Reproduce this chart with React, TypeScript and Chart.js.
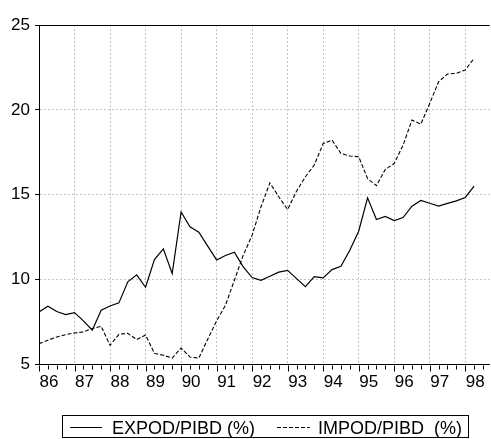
import React, { useEffect, useRef } from "react";
import { Chart, registerables } from "chart.js";

Chart.register(...registerables);

const years = ["86", "87", "88", "89", "90", "91", "92", "93", "94", "95", "96", "97", "98"];
// Quarterly observations 1986Q1 .. 1998Q2
const expod = [
  8.10, 8.43, 8.12, 7.94, 8.06, 7.57, 7.02, 8.20, 8.45, 8.63,
  9.87, 10.28, 9.55, 11.18, 11.81, 10.36, 13.99, 13.11, 12.79, 11.97,
  11.16, 11.42, 11.62, 10.75, 10.12, 9.96, 10.20, 10.44, 10.55, 10.06,
  9.59, 10.18, 10.10, 10.59, 10.79, 11.73, 12.85, 14.82, 13.54, 13.72,
  13.48, 13.66, 14.33, 14.66, 14.50, 14.33, 14.49, 14.64, 14.84, 15.51,
];
const impod = [
  6.23, 6.43, 6.62, 6.76, 6.86, 6.92, 7.12, 7.25, 6.13, 6.78,
  6.84, 6.47, 6.74, 5.66, 5.54, 5.38, 5.97, 5.44, 5.38, 6.49,
  7.57, 8.49, 9.96, 11.44, 12.62, 14.29, 15.70, 14.88, 14.13, 15.21,
  16.06, 16.75, 18.02, 18.22, 17.43, 17.28, 17.24, 15.96, 15.53, 16.49,
  16.84, 17.92, 19.40, 19.16, 20.38, 21.66, 22.11, 22.15, 22.35, 23.04,
];
const seriesNames = ["EXPOD/PIBD (%)", "IMPOD/PIBD  (%)"];
const yTicks = [5, 10, 15, 20, 25];

const FONT = '"Liberation Sans", Arial, sans-serif';

const framePlugin = {
  id: "frameLegend",
  afterDraw(chart: any) {
    const ctx = chart.ctx;
    const a = chart.chartArea;
    const xs = chart.scales.x;
    ctx.save();
    ctx.strokeStyle = "#000";
    ctx.lineWidth = 1;
    ctx.setLineDash([]);
    ctx.beginPath();
    ctx.moveTo(a.left, Math.round(a.top) + 0.5);
    ctx.lineTo(a.right, Math.round(a.top) + 0.5);
    ctx.stroke();

    // quarterly tick marks below the x axis
    const yb = Math.round(a.bottom) + 0.5;
    ctx.beginPath();
    xs.ticks.forEach((t: any) => {
      const px = Math.round(xs.getPixelForValue(t.value)) + 0.5;
      const len = t.value % 4 === 0 ? 6 : 4;
      ctx.moveTo(px, yb);
      ctx.lineTo(px, yb + len);
    });
    ctx.stroke();

    // legend box
    ctx.strokeRect(62.5, 415.5, 406, 22);
    ctx.font = `18px ${FONT}`;
    ctx.fillStyle = "#000";
    ctx.textBaseline = "alphabetic";
    const layout = [
      { x0: 70, x1: 102, tx: 112 },
      { x0: 277, x1: 310, tx: 318 },
    ];
    chart.data.datasets.forEach((ds: any, k: number) => {
      const l = layout[k];
      ctx.setLineDash(ds.borderDash || []);
      ctx.lineWidth = 1;
      ctx.beginPath();
      ctx.moveTo(l.x0, 427.5);
      ctx.lineTo(l.x1, 427.5);
      ctx.stroke();
      ctx.setLineDash([]);
      ctx.fillText(ds.label, l.tx, 434);
    });
    ctx.restore();
  },
};

export default function App() {
  const ref = useRef<HTMLCanvasElement>(null);
  useEffect(() => {
    const canvas = ref.current;
    if (!canvas) return;
    const chart = new Chart(canvas, {
      type: "line",
      data: {
        datasets: [
          {
            label: seriesNames[0],
            data: expod.map((v, i) => ({ x: i, y: v })),
            borderColor: "#000",
            borderWidth: 1.2,
            pointRadius: 0,
            tension: 0,
            fill: false,
          },
          {
            label: seriesNames[1],
            data: impod.map((v, i) => ({ x: i, y: v })),
            borderColor: "#000",
            borderWidth: 1.1,
            borderDash: [4, 2],
            pointRadius: 0,
            tension: 0,
            fill: false,
          },
        ],
      },
      options: {
        animation: false,
        responsive: false,
        devicePixelRatio: 1,
        layout: { padding: { top: 25, left: 0, right: 0, bottom: 0 } },
        plugins: { legend: { display: false }, tooltip: { enabled: false } },
        scales: {
          x: {
            type: "linear",
            min: 0,
            max: 50.76,
            afterBuildTicks: (s: any) => {
              s.ticks = Array.from({ length: 51 }, (_, i) => ({ value: i }));
            },
            afterFit: (s: any) => {
              s.height = 74.5;
            },
            grid: {
              color: (c: any) =>
                c.tick && c.tick.value % 4 === 0 && c.tick.value > 0 ? "#c4c4c4" : "rgba(0,0,0,0)",
              drawTicks: false,
              lineWidth: 1,
            },
            border: { display: true, color: "#000", width: 1, dash: [2, 2] },
            ticks: {
              autoSkip: false,
              maxRotation: 0,
              minRotation: 0,
              padding: 8,
              labelOffset: 10,
              color: "#000",
              font: { family: FONT, size: 17 },
              callback: (v: any) => (v % 4 === 0 ? years[v / 4] : ""),
            },
          },
          y: {
            min: 5,
            max: 25,
            afterBuildTicks: (s: any) => {
              s.ticks = yTicks.map((v) => ({ value: v }));
            },
            afterFit: (s: any) => {
              s.width = 39;
            },
            grid: {
              color: (c: any) =>
                c.tick && c.tick.value > 5 && c.tick.value < 25 ? "#c4c4c4" : "rgba(0,0,0,0)",
              tickColor: "#000",
              tickLength: 4,
              tickBorderDash: [],
              lineWidth: 1,
            },
            border: { display: true, color: "#000", width: 1, dash: [2, 2] },
            ticks: {
              padding: 5,
              color: "#000",
              font: { family: FONT, size: 17 },
            },
          },
        },
      },
      plugins: [framePlugin],
    });
    return () => chart.destroy();
  }, []);
  return (
    <div style={{ position: "fixed", left: 0, top: 0, width: 491, height: 439 }}>
      <canvas ref={ref} width={491} height={439} style={{ display: "block" }} />
    </div>
  );
}
